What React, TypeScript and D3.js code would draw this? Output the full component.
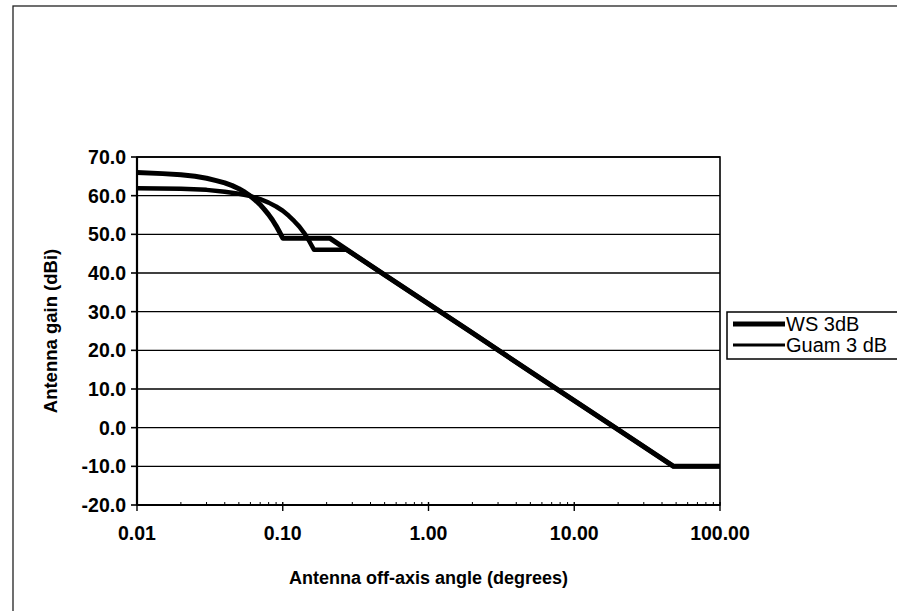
import React, { useEffect, useRef } from "react";
import * as d3 from "d3";

// ---- data ----
const xTickValues = [0.01, 0.1, 1, 10, 100];
const xTickLabels = ["0.01", "0.10", "1.00", "10.00", "100.00"];
const yTickValues = [-20, -10, 0, 10, 20, 30, 40, 50, 60, 70];
const yTickLabels = ["-20.0", "-10.0", "0.0", "10.0", "20.0", "30.0", "40.0", "50.0", "60.0", "70.0"];

const seriesNames = ["WS 3dB", "Guam 3 dB"];

const wsAngle = [0.01, 0.015, 0.02, 0.025, 0.03, 0.035, 0.04, 0.045, 0.05, 0.055, 0.06, 0.065, 0.07, 0.075, 0.08, 0.085, 0.09, 0.095, 0.1, 0.21, 0.5, 1, 2, 5, 10, 20, 48, 100];
const wsGain = [66, 65.7, 65.4, 65.0, 64.5, 63.9, 63.3, 62.6, 61.8, 60.9, 59.9, 58.8, 57.7, 56.4, 55.1, 53.7, 52.2, 50.6, 49, 49, 39.5, 32, 24.5, 14.5, 7, -0.5, -10, -10];

const guamAngle = [0.01, 0.02, 0.03, 0.04, 0.05, 0.06, 0.07, 0.08, 0.09, 0.1, 0.11, 0.12, 0.13, 0.14, 0.15, 0.164, 0.275, 0.5, 1, 2, 5, 10, 20, 48, 100];
const guamGain = [61.9, 61.8, 61.5, 61.0, 60.5, 59.9, 59.1, 58.2, 57.2, 56.1, 54.8, 53.4, 52.0, 50.4, 48.6, 46, 46, 39.5, 32, 24.5, 14.5, 7, -0.5, -10, -10];

const W = 897;
const H = 611;

export default function App() {
  const ref = useRef<SVGSVGElement | null>(null);

  useEffect(() => {
    const svg = d3.select(ref.current);
    svg.selectAll("*").remove();

    const left = 137, right = 720, top = 157, bottom = 505;
    const x = d3.scaleLog().domain([0.01, 100]).range([left, right]);
    const y = d3.scaleLinear().domain([-20, 70]).range([bottom, top]);
    const font = "'Liberation Sans', Arial, Helvetica, sans-serif";

    // outer chart border
    svg.append("rect")
      .attr("x", 13).attr("y", 6).attr("width", 900).attr("height", 620)
      .attr("fill", "none").attr("stroke", "#222").attr("stroke-width", 1.3);

    // horizontal gridlines
    svg.append("g").selectAll("line").data(yTickValues).join("line")
      .attr("x1", left).attr("x2", right)
      .attr("y1", d => y(d)).attr("y2", d => y(d))
      .attr("stroke", "#000").attr("stroke-width", 1.4);

    // plot area border
    svg.append("rect")
      .attr("x", left).attr("y", top).attr("width", right - left).attr("height", bottom - top)
      .attr("fill", "none").attr("stroke", "#000").attr("stroke-width", 1.6);

    // y axis
    svg.append("line").attr("x1", left).attr("x2", left).attr("y1", top).attr("y2", bottom)
      .attr("stroke", "#000").attr("stroke-width", 2.2);
    svg.append("g").selectAll("line").data(yTickValues).join("line")
      .attr("x1", left - 6).attr("x2", left)
      .attr("y1", d => y(d)).attr("y2", d => y(d))
      .attr("stroke", "#000").attr("stroke-width", 1.6);
    svg.append("g").selectAll("text").data(yTickValues).join("text")
      .attr("x", 126).attr("y", d => y(d) + 7)
      .attr("text-anchor", "end")
      .attr("font-family", font).attr("font-weight", "bold").attr("font-size", 19.5)
      .text((d, i) => yTickLabels[i]);

    // x axis
    svg.append("line").attr("x1", left).attr("x2", right).attr("y1", bottom).attr("y2", bottom)
      .attr("stroke", "#000").attr("stroke-width", 2.2);
    const minor: number[] = [];
    for (let e = -2; e < 2; e++) {
      for (let m = 2; m <= 9; m++) minor.push(m * Math.pow(10, e));
    }
    svg.append("g").selectAll("line").data(minor).join("line")
      .attr("x1", d => x(d)).attr("x2", d => x(d))
      .attr("y1", bottom - 3).attr("y2", bottom)
      .attr("stroke", "#000").attr("stroke-width", 1);
    svg.append("g").selectAll("line").data(xTickValues).join("line")
      .attr("x1", d => x(d)).attr("x2", d => x(d))
      .attr("y1", bottom - 3).attr("y2", bottom + 6)
      .attr("stroke", "#000").attr("stroke-width", 1.4);
    svg.append("g").selectAll("text").data(xTickValues).join("text")
      .attr("x", d => x(d)).attr("y", 540)
      .attr("text-anchor", "middle")
      .attr("font-family", font).attr("font-weight", "bold").attr("font-size", 19.5)
      .text((d, i) => xTickLabels[i]);

    // axis titles
    svg.append("text")
      .attr("x", (left + right) / 2).attr("y", 584)
      .attr("text-anchor", "middle")
      .attr("font-family", font).attr("font-weight", "bold").attr("font-size", 18)
      .text("Antenna off-axis angle (degrees)");
    svg.append("text")
      .attr("transform", `translate(57,${(top + bottom) / 2}) rotate(-90)`)
      .attr("text-anchor", "middle")
      .attr("font-family", font).attr("font-weight", "bold").attr("font-size", 18.5)
      .text("Antenna gain (dBi)");

    // series
    const line = d3.line<[number, number]>().x(d => x(d[0])).y(d => y(d[1]));
    const ws: [number, number][] = wsAngle.map((a, i) => [a, wsGain[i]]);
    const gu: [number, number][] = guamAngle.map((a, i) => [a, guamGain[i]]);
    svg.append("path").attr("d", line(gu) as string)
      .attr("fill", "none").attr("stroke", "#000").attr("stroke-width", 4.5)
      .attr("stroke-linejoin", "round");
    svg.append("path").attr("d", line(ws) as string)
      .attr("fill", "none").attr("stroke", "#000").attr("stroke-width", 5)
      .attr("stroke-linejoin", "round");

    // legend
    const lg = svg.append("g");
    lg.append("rect").attr("x", 727).attr("y", 312).attr("width", 200).attr("height", 47)
      .attr("fill", "#fff").attr("stroke", "#000").attr("stroke-width", 1.5);
    const entries = [
      { name: seriesNames[0], yy: 324, w: 5 },
      { name: seriesNames[1], yy: 345, w: 3 },
    ];
    entries.forEach(e => {
      lg.append("line").attr("x1", 733).attr("x2", 785).attr("y1", e.yy).attr("y2", e.yy)
        .attr("stroke", "#000").attr("stroke-width", e.w);
      lg.append("text").attr("x", 786).attr("y", e.yy + 7)
        .attr("font-family", font).attr("font-size", 20)
        .text(e.name);
    });
  }, []);

  return (
    <svg ref={ref} width={W} height={H}
      style={{ position: "absolute", left: 0, top: 0, background: "#fff" }} />
  );
}
